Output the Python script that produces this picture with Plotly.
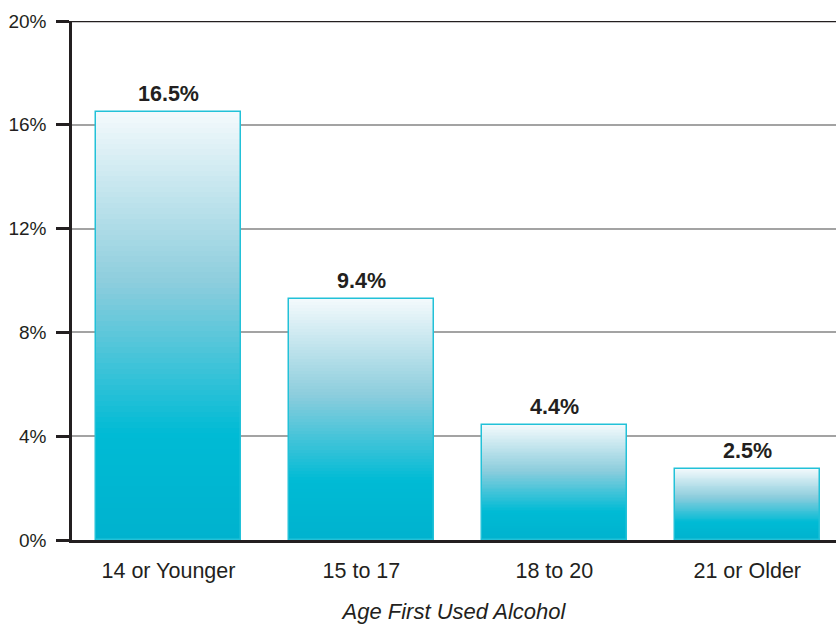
import plotly.graph_objects as go

# ---- data ----
categories = ["14 or Younger", "15 to 17", "18 to 20", "21 or Older"]
bar_heights = [16.5, 9.3, 4.45, 2.75]          # bar tops as drawn in the picture
bar_labels = ["16.5%", "9.4%", "4.4%", "2.5%"]  # printed values
y_ticks = [0, 4, 8, 12, 16, 20]
y_tick_labels = ["0%", "4%", "8%", "12%", "16%", "20%"]
x_title = "Age First Used Alcohol"

FONT = "Liberation Sans, Arial, Helvetica, sans-serif"
TXT = "#231f20"

# gradient stops (fraction of bar height -> rgb)
stops = [
    (0.0, (0, 178, 206)),
    (0.25, (0, 187, 213)),
    (0.6, (140, 205, 221)),
    (1.0, (244, 250, 252)),
]


def color_at(t):
    for (t0, c0), (t1, c1) in zip(stops[:-1], stops[1:]):
        if t0 <= t <= t1:
            f = (t - t0) / (t1 - t0) if t1 > t0 else 0
            c = [round(a + (b - a) * f) for a, b in zip(c0, c1)]
            return "rgb(%d,%d,%d)" % tuple(c)
    return "rgb(%d,%d,%d)" % stops[-1][1]


fig = go.Figure()
N = 80
BW = 0.75
for k in range(N, 0, -1):
    t = k / N
    fig.add_trace(go.Bar(
        x=categories,
        y=[h * t for h in bar_heights],
        width=BW,
        marker=dict(color=color_at(t - 0.5 / N), line=dict(width=0)),
        hoverinfo="skip",
        showlegend=False,
    ))

# outline
fig.add_trace(go.Bar(
    x=categories,
    y=bar_heights,
    width=BW,
    marker=dict(color="rgba(0,0,0,0)", line=dict(color="#22c1d8", width=1.5)),
    showlegend=False,
))

for c, h, lab in zip(categories, bar_heights, bar_labels):
    fig.add_annotation(
        x=c, y=h, text="<b>%s</b>" % lab, showarrow=False,
        yanchor="bottom", yshift=4,
        font=dict(family=FONT, size=21.5, color=TXT),
    )

# dark top line at 20%
fig.add_shape(type="line", xref="paper", x0=0, x1=1, yref="y", y0=20, y1=20,
              line=dict(color="#231f20", width=2.5), layer="above")

fig.update_layout(
    width=836, height=624,
    margin=dict(l=72, r=0, t=21, b=84),
    barmode="overlay",
    bargap=0,
    paper_bgcolor="white",
    plot_bgcolor="white",
    font=dict(family=FONT, color=TXT, size=18),
    xaxis=dict(
        range=[-0.5, 3.46],
        showgrid=False,
        showline=True, linecolor="#231f20", linewidth=3,
        ticks="", ticklabelstandoff=9,
        tickfont=dict(size=21.5, color=TXT),
        title=dict(text="<i>%s</i>" % x_title, font=dict(size=22, color=TXT), standoff=22),
        fixedrange=True,
    ),
    yaxis=dict(
        range=[0, 20],
        tickvals=y_ticks, ticktext=y_tick_labels,
        showgrid=True, gridcolor="#a3a3a3", gridwidth=1.5,
        zeroline=False,
        showline=True, linecolor="#231f20", linewidth=2.5,
        ticks="outside", ticklen=13, tickwidth=2.5, tickcolor="#231f20",
        ticklabelstandoff=6,
        tickfont=dict(size=19, color=TXT),
        fixedrange=True,
    ),
)

fig.write_html("out.html")
